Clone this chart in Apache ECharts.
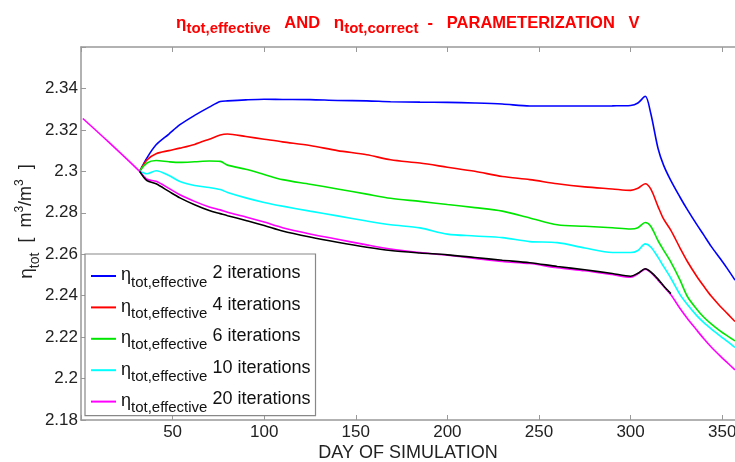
<!DOCTYPE html>
<html>
<head>
<meta charset="utf-8">
<script src="https://cdn.jsdelivr.net/npm/echarts@6/dist/echarts.min.js"></script>
<style>
  html, body { margin: 0; padding: 0; background: #fff; }
  #chart { width: 735px; height: 462px; }
</style>
</head>
<body>
<div id="chart"></div>
<script>
// sample days shared by all curves
const days = [1, 15, 32, 36, 41, 48, 54, 62, 70, 76, 80, 90, 100, 110, 125, 140, 156, 169, 185, 200,
  215, 230, 245, 260, 275, 290, 300, 304, 308, 311, 315, 318, 322, 327, 331, 336, 340, 344, 349, 353, 357];

const it2 = [null, null, 2.300, 2.3065, 2.3128, 2.318, 2.3225, 2.327, 2.331, 2.3337, 2.334, 2.3345, 2.3348,
  2.3347, 2.3346, 2.3342, 2.334, 2.3336, 2.3334, 2.3333, 2.333, 2.3325, 2.3315, 2.3315, 2.3315, 2.3316,
  2.3318, 2.333, 2.3362, 2.328, 2.311, 2.303, 2.2955, 2.2875, 2.2815, 2.2745, 2.2692, 2.2638, 2.2578, 2.2528, 2.2475];
const it4 = [null, null, 2.300, 2.3055, 2.3085, 2.310, 2.3112, 2.313, 2.3155, 2.3175, 2.318, 2.3168, 2.3155,
  2.3142, 2.3125, 2.310, 2.308, 2.3056, 2.304, 2.302, 2.300, 2.2975, 2.296, 2.294, 2.2925, 2.2915,
  2.2908, 2.2918, 2.294, 2.2915, 2.283, 2.277, 2.2715, 2.263, 2.2565, 2.2495, 2.2445, 2.2398, 2.2348, 2.2312, 2.2275];
const it6 = [null, null, 2.300, 2.304, 2.3052, 2.3046, 2.3043, 2.3046, 2.305, 2.3048, 2.303, 2.301, 2.2985,
  2.296, 2.2938, 2.2915, 2.289, 2.287, 2.2855, 2.284, 2.2825, 2.2808, 2.2775, 2.2742, 2.2735, 2.2728,
  2.2722, 2.2728, 2.2753, 2.2735, 2.2665, 2.262, 2.2562, 2.2475, 2.2396, 2.2336, 2.2296, 2.2264, 2.2229, 2.2205, 2.2182];
const it10 = [null, null, 2.300, 2.2988, 2.3003, 2.298, 2.2951, 2.2932, 2.2922, 2.2912, 2.2898, 2.2872, 2.285,
  2.2832, 2.2808, 2.2785, 2.276, 2.2742, 2.2727, 2.2697, 2.2688, 2.268, 2.2661, 2.2656, 2.263, 2.2608,
  2.2608, 2.2618, 2.265, 2.2635, 2.2585, 2.2541, 2.2484, 2.2405, 2.2357, 2.2305, 2.227, 2.224, 2.2205, 2.2178, 2.215];
const it20 = [2.3255, 2.3142, 2.300, 2.2962, 2.2952, 2.2918, 2.2887, 2.2855, 2.2828, 2.2814, 2.2803, 2.278, 2.2755,
  2.2728, 2.2698, 2.2672, 2.2645, 2.2625, 2.2608, 2.2595, 2.258, 2.2565, 2.2555, 2.2535, 2.252, 2.2502,
  2.2489, 2.2505, 2.2528, 2.2512, 2.2475, 2.2445, 2.2404, 2.2338, 2.229, 2.2235, 2.2192, 2.2152, 2.2108, 2.2075, 2.2042];
// eta_tot,correct (black curve)
const correct = [null, null, 2.300, 2.2955, 2.2940, 2.2903, 2.2872, 2.2839, 2.2811, 2.2796, 2.2786, 2.2763, 2.2739,
  2.2712, 2.2683, 2.2658, 2.2634, 2.2618, 2.2606, 2.2597, 2.2584, 2.2571, 2.2559, 2.2541, 2.2525, 2.2507,
  2.2494, 2.2508, 2.2530, 2.2515, 2.2480, 2.2448, 2.2410, null, null, null, null, null, null, null, null];

const seriesNames = ['2 iterations', '4 iterations', '6 iterations', '10 iterations', '20 iterations'];
const seriesColors = ['#0000ff', '#ff0000', '#00e600', '#00ffff', '#ff00ff'];
const seriesValues = [it2, it4, it6, it10, it20];

const FONT = '"Liberation Sans", Arial, sans-serif';
const chart = echarts.init(document.getElementById('chart'));
const pairs = vals => days.map((d, i) => [d, vals[i]]);

const series = seriesNames.map((name, i) => ({
  name: name,
  type: 'line',
  symbol: 'none',
  smooth: 0.3,
  data: pairs(seriesValues[i]),
  lineStyle: { color: seriesColors[i], width: 1.6 },
  itemStyle: { color: seriesColors[i] }
}));
series.push({
  name: 'correct',
  type: 'line',
  symbol: 'none',
  smooth: 0.3,
  data: pairs(correct),
  lineStyle: { color: '#000', width: 1.6 },
  itemStyle: { color: '#000' }
});

const axisGray = '#999';
const red = '#ff0000';

const option = {
  animation: false,
  title: {
    text: '{eta|η}{sub|tot,effective}{t|   AND   }{eta|η}{sub|tot,correct}{t|  -   PARAMETERIZATION   V}',
    left: 176,
    top: 13,
    padding: 0,
    textStyle: {
      rich: {
        eta: { fontSize: 17, fontFamily: FONT, color: red, lineHeight: 20 },
        sub: { fontSize: 15, fontWeight: 'bold', fontFamily: FONT, color: red, lineHeight: 16, padding: [12, 0, 0, 0] },
        t: { fontSize: 16.5, fontWeight: 'bold', fontFamily: FONT, color: red, lineHeight: 20 }
      }
    }
  },
  legend: {
    data: seriesNames,
    orient: 'vertical',
    left: 85,
    top: 254,
    padding: [8, 5, 0, 6],
    itemGap: 3.4,
    icon: 'rect',
    itemWidth: 25,
    itemHeight: 2,
    backgroundColor: '#fff',
    borderColor: '#888',
    borderWidth: 1.2,
    formatter: name => '{eta|η}{sub|tot,effective}{it| ' + name + '}',
    textStyle: {
      fontFamily: FONT,
      color: '#111',
      rich: {
        eta: { fontSize: 18, fontFamily: FONT, color: '#111', lineHeight: 20, padding: [0, 0, 1, 0] },
        sub: { fontSize: 15, fontFamily: FONT, color: '#111', lineHeight: 16, padding: [13, 0, 0, 0] },
        it: { fontSize: 18, fontFamily: FONT, color: '#111', lineHeight: 20, padding: [0, 0, 5, 0] }
      }
    }
  },
  grid: { left: 81, right: 0, top: 47, bottom: 42, containLabel: false, outerBoundsMode: 'none' },
  xAxis: [{
    type: 'value',
    min: 0,
    max: 357,
    interval: 50,
    position: 'bottom',
    axisLine: { onZero: false, lineStyle: { color: axisGray, width: 1.5 } },
    axisTick: { inside: true, length: 5, lineStyle: { color: axisGray } },
    axisLabel: {
      fontSize: 17, fontFamily: FONT, color: '#222', margin: 4,
      formatter: v => (v > 0 && v % 50 === 0) ? String(v) : ''
    },
    splitLine: { show: false },
    name: 'DAY OF SIMULATION',
    nameLocation: 'middle',
    nameGap: 24,
    nameMoveOverlap: false,
    nameTextStyle: { fontSize: 18, fontFamily: FONT, color: '#222' }
  }, {
    type: 'value',
    min: 0,
    max: 357,
    interval: 50,
    position: 'top',
    axisLine: { onZero: false, lineStyle: { color: axisGray, width: 1.5 } },
    axisTick: { inside: true, length: 5, lineStyle: { color: axisGray } },
    axisLabel: { show: false },
    splitLine: { show: false }
  }],
  yAxis: {
    type: 'value',
    min: 2.18,
    max: 2.36,
    interval: 0.02,
    axisLine: { show: true, onZero: false, lineStyle: { color: axisGray, width: 1.5 } },
    axisTick: { show: true, inside: true, length: 5, lineStyle: { color: axisGray } },
    axisLabel: {
      fontSize: 17, fontFamily: FONT, color: '#222', margin: 3,
      formatter: v => v > 2.35 ? '' : String(+v.toFixed(2))
    },
    splitLine: { show: false },
    name: '{eta|η}{sub|tot}{t|  [  m}{sup|3}{t|/m}{sup|3}{t|  ]}',
    nameLocation: 'middle',
    nameGap: 45,
    nameMoveOverlap: false,
    nameTextStyle: {
      padding: [0, 0, 0, 24],
      rich: {
        eta: { fontSize: 19, fontFamily: FONT, color: '#222', lineHeight: 20, padding: [2, 0, 0, 0] },
        sub: { fontSize: 14, fontFamily: FONT, color: '#222', lineHeight: 14, padding: [18, 0, 0, 0] },
        sup: { fontSize: 12, fontFamily: FONT, color: '#222', lineHeight: 12, padding: [0, 0, 12, 0] },
        t: { fontSize: 18, fontFamily: FONT, color: '#222', lineHeight: 20 }
      }
    }
  },
  series: series
};

chart.setOption(option);
</script>
</body>
</html>
